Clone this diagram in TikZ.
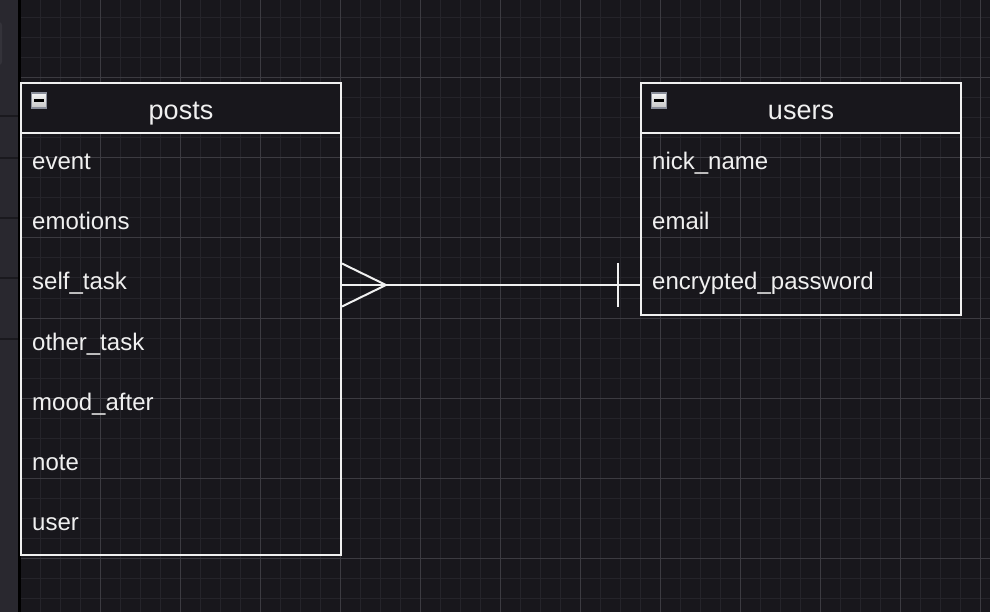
\documentclass[tikz,border=0pt]{standalone}
\usepackage{fontspec}
\setmainfont{Liberation Sans}
\definecolor{bg}{HTML}{18171C}
\definecolor{minorgrid}{HTML}{25242A}
\definecolor{majorgrid}{HTML}{3C3B41}
\definecolor{strip}{HTML}{29282F}
\definecolor{stripline}{HTML}{1A191E}
\definecolor{stripbump}{HTML}{34333A}
\definecolor{ink}{HTML}{F0F0F0}
\definecolor{iconborder}{HTML}{8A8E9A}
\begin{document}
\begin{tikzpicture}[x=1pt,y=-1pt,
  tablebox/.style={draw=ink, line width=2pt, inner sep=0pt},
  headfill/.style={fill=bg, draw=none},
  sepline/.style={draw=ink, line width=2pt},
  titletext/.style={text=ink, inner sep=0pt, anchor=base, font=\fontsize{27}{32}\selectfont},
  field/.style={text=ink, inner sep=0pt, anchor=base west, text height=17pt, text depth=5pt, font=\fontsize{24}{28}\selectfont},
  conn/.style={draw=ink, line width=2pt},
  icon/.style={minimum size=15pt, inner sep=0pt, draw=iconborder, line width=1.5pt, top color=white!92!gray, bottom color=gray!45},
  minus/.style={draw=black, line width=2.5pt}
]
\useasboundingbox (0,0) rectangle (990,612);
\fill[bg] (0,0) rectangle (990,612);
% grid
\foreach \x in {40,60,...,980} \draw[minorgrid, line width=1pt] (\x,0) -- (\x,612);
\foreach \y in {18,38,...,598} \draw[minorgrid, line width=1pt] (21,\y) -- (990,\y);
\foreach \x in {100,180,...,980} \draw[majorgrid, line width=1pt] (\x,0) -- (\x,612);
\foreach \y in {78,158,...,558} \draw[majorgrid, line width=1pt] (21,\y) -- (990,\y);
% left strip
\fill[strip] (0,0) rectangle (18,612);
\fill[stripbump, rounded corners=3pt] (-6,22) rectangle (2,65);
\foreach \y in {116,158,218,278,339} \draw[stripline, line width=1.2pt] (0,\y) -- (18,\y);
\fill[black] (18,0) rectangle (21,612);

% posts table
\fill[headfill] (21,83) rectangle (341,134);
\node[tablebox, minimum width=320pt, minimum height=472pt] (posts) at (181,319) {};
\draw[sepline] (posts.north west) ++(0,51) -- ++(320,0);
\node[titletext] (ptitle) at (181,120) {posts};
\node[icon] (picon) at (39,100.5) {};
\draw[minus] (picon.center) ++(-5,0) -- ++(10,0);
\node[field] (p1) at (32,170) {event};
\node[field] (p2) at (32,230) {emotions};
\node[field] (p3) at (32,290) {self\_task};
\node[field] (p4) at (32,350) {other\_task};
\node[field] (p5) at (32,410) {mood\_after};
\node[field] (p6) at (32,470) {note};
\node[field] (p7) at (32,530) {user};

% users table
\fill[headfill] (641,83) rectangle (961,134);
\node[tablebox, minimum width=320pt, minimum height=232pt] (users) at (801,199) {};
\draw[sepline] (users.north west) ++(0,51) -- ++(320,0);
\node[titletext] (utitle) at (801,120) {users};
\node[icon] (uicon) at (659,100.5) {};
\draw[minus] (uicon.center) ++(-5,0) -- ++(10,0);
\node[field] (u1) at (652,170) {nick\_name};
\node[field] (u2) at (652,230) {email};
\node[field] (u3) at (652,290) {encrypted\_password};

% relationship
\coordinate (cf) at ([yshift=-1pt]posts.east |- p3);
\coordinate (one) at ([yshift=-1pt]users.west |- u3);
\draw[conn] (cf) -- (one);
\draw[conn] (cf) ++(0,-21.5) -- ++(44,21.5) -- ++(-44,21.5);
\draw[conn] (one) ++(-22,-22) -- ++(0,44);
\end{tikzpicture}
\end{document}
